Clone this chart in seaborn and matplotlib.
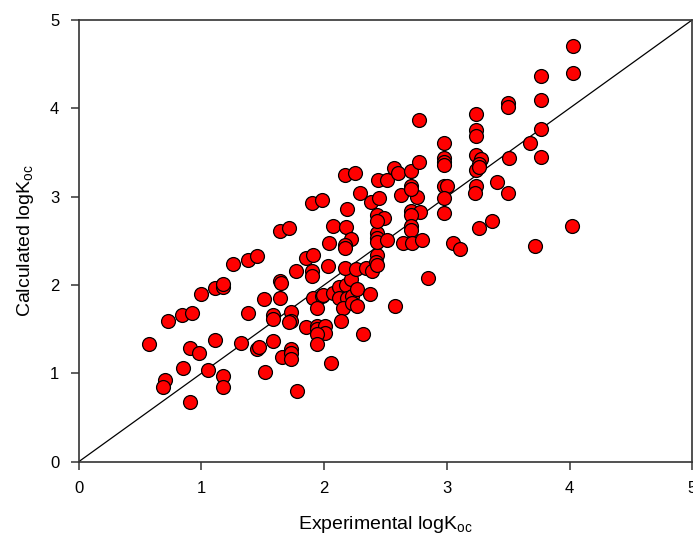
import matplotlib
matplotlib.use("Agg")
import matplotlib.pyplot as plt
import seaborn as sns
import pandas as pd

# experimental vs calculated logKoc
experimental = [
    0.57, 0.73, 0.84, 0.92, 0.91, 0.98, 1.11, 1.32, 1.45, 1.47,
    1.58, 1.66, 0.85, 1.05, 0.70, 0.69, 1.18, 1.18, 1.52, 0.91,
    1.78, 1.00, 1.11, 1.18, 1.18, 1.26, 1.38, 1.45, 1.51, 1.64,
    1.38, 1.58, 1.58, 1.64, 1.65, 1.64, 1.71, 1.73, 1.73, 1.71,
    1.77, 1.85, 1.91, 1.90, 1.90, 1.91, 1.98, 1.99, 1.94, 1.85,
    1.94, 1.94, 2.01, 2.01, 1.94, 1.94, 1.73, 1.73, 1.73, 2.06,
    2.04, 2.03, 2.07, 2.12, 2.18, 2.22, 2.12, 2.19, 2.23, 2.15,
    2.23, 2.27, 2.27, 2.37, 2.14, 2.32, 2.17, 2.26, 2.34, 2.39,
    2.43, 2.42, 2.43, 2.43, 2.43, 2.43, 2.51, 2.43, 2.49, 2.43,
    2.38, 2.45, 2.44, 2.51, 2.57, 2.60, 2.71, 2.63, 2.76, 2.71,
    2.71, 2.29, 2.19, 2.07, 2.18, 2.22, 2.17, 2.17, 2.17, 2.25,
    1.90, 1.98, 2.71, 2.78, 2.71, 2.71, 2.71, 2.64, 2.72, 2.80,
    2.85, 2.58, 2.77, 2.77, 2.98, 2.98, 2.98, 2.98, 2.98, 3.00,
    2.98, 2.98, 3.05, 3.11, 3.24, 3.24, 3.24, 3.24, 3.28, 3.26,
    3.24, 3.26, 3.24, 3.23, 3.26, 3.37, 3.41, 3.50, 3.51, 3.50,
    3.50, 3.68, 3.77, 3.77, 3.77, 3.77, 3.72, 4.02, 4.03, 4.03,
]
calculated = [
    1.33, 1.59, 1.66, 1.68, 1.29, 1.23, 1.38, 1.34, 1.28, 1.30,
    1.37, 1.19, 1.06, 1.04, 0.93, 0.85, 0.97, 0.85, 1.02, 0.68,
    0.80, 1.90, 1.97, 1.98, 2.01, 2.24, 2.28, 2.33, 1.84, 1.85,
    1.68, 1.66, 1.61, 2.04, 2.02, 2.61, 2.64, 1.70, 1.59, 1.58,
    2.16, 2.31, 2.34, 2.16, 2.10, 1.85, 1.87, 1.89, 1.74, 1.53,
    1.54, 1.50, 1.54, 1.46, 1.44, 1.33, 1.28, 1.23, 1.16, 1.12,
    2.48, 2.22, 1.91, 1.98, 2.00, 2.07, 1.85, 1.85, 1.88, 1.74,
    1.80, 1.96, 1.76, 1.90, 1.59, 1.45, 2.19, 2.18, 2.19, 2.16,
    2.34, 2.26, 2.23, 2.59, 2.53, 2.49, 2.51, 2.79, 2.76, 2.72,
    2.94, 2.98, 3.19, 3.19, 3.32, 3.27, 3.29, 3.02, 3.00, 3.12,
    3.09, 3.04, 2.86, 2.67, 2.66, 2.52, 2.45, 2.42, 3.25, 3.27,
    2.93, 2.96, 2.84, 2.83, 2.79, 2.67, 2.62, 2.48, 2.48, 2.51,
    2.08, 1.76, 3.87, 3.39, 3.61, 3.44, 3.39, 3.36, 3.12, 3.12,
    2.98, 2.82, 2.47, 2.41, 3.93, 3.75, 3.69, 3.47, 3.43, 3.37,
    3.30, 3.33, 3.12, 3.04, 2.65, 2.72, 3.16, 3.04, 3.44, 4.06,
    4.01, 3.61, 4.37, 4.09, 3.77, 3.45, 2.44, 2.67, 4.70, 4.40,
]

axis_ticks = [0, 1, 2, 3, 4, 5]

df = pd.DataFrame({"experimental": experimental, "calculated": calculated})

sns.set_style("white")
plt.rcParams["font.family"] = ["Liberation Sans", "DejaVu Sans"]
plt.rcParams["mathtext.fontset"] = "custom"
plt.rcParams["mathtext.rm"] = "Liberation Sans"
plt.rcParams["text.color"] = "black"

fig = plt.figure(figsize=(6.93, 5.36), dpi=100)
ax = fig.add_axes([0.1135, 0.1385, 0.8855, 0.8245])

# 1:1 line
ax.plot([0, 5], [0, 5], color="black", linewidth=0.9, zorder=1)

sns.scatterplot(data=df, x="experimental", y="calculated", ax=ax,
                color="#ff0000", edgecolor="black", linewidth=0.9,
                s=100, zorder=2, legend=False)

ax.set_xlim(0, 5)
ax.set_ylim(0, 5)
ax.set_xticks(axis_ticks)
ax.set_yticks(axis_ticks)
ax.tick_params(direction="out", length=6, width=1.2, color="#444444",
               labelcolor="black", labelsize=12, pad=8, bottom=True, left=True)
for sp in ax.spines.values():
    sp.set_color("#333333")
    sp.set_linewidth(1.2)

ax.set_xlabel(r"Experimental logK$_{\mathrm{oc}}$", fontsize=14, labelpad=13,
              color="black")
ax.set_ylabel(r"Calculated logK$_{\mathrm{oc}}$", fontsize=14, labelpad=10,
              color="black")

fig.savefig("out.png", dpi=100)
